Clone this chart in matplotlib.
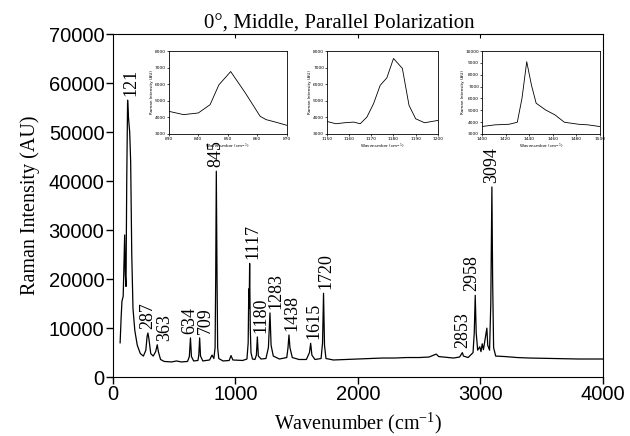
import matplotlib
matplotlib.use("Agg")
import matplotlib.pyplot as plt

# Raman spectrum, 0 deg, middle position, parallel polarization
wavenumber = [60, 68, 75, 85, 92, 97, 102, 108, 114, 121, 128, 138, 146, 155,
              165, 180, 200, 225, 250, 270, 280, 287, 295, 310, 330, 350, 363,
              372, 390, 420, 480, 520, 560, 610, 625, 634, 642, 660, 695, 702,
              709, 716, 735, 790, 810, 825, 835, 840, 845, 851, 856, 865, 900,
              950, 965, 980, 1060, 1095, 1105, 1110, 1113, 1117, 1122, 1128,
              1140, 1160, 1172, 1180, 1188, 1210, 1250, 1270, 1283, 1292, 1310,
              1360, 1420, 1430, 1438, 1446, 1465, 1520, 1580, 1605, 1615, 1625,
              1650, 1700, 1712, 1720, 1728, 1740, 1800, 1900, 2000, 2100, 2200,
              2300, 2400, 2500, 2580, 2620, 2640, 2660, 2700, 2780, 2830, 2845,
              2853, 2862, 2900, 2940, 2950, 2958, 2966, 2978, 2995, 3005, 3015,
              3025, 3040, 3053, 3060, 3075, 3085, 3094, 3100, 3108, 3125, 3200,
              3300, 3400, 3600, 3800, 4000]
intensity = [7000, 12000, 15500, 16500, 24000, 29000, 21000, 18500, 40000,
             56500, 53000, 50000, 44000, 25000, 14000, 9500, 6500, 4800, 4300,
             5500, 8300, 9000, 7800, 4800, 4300, 5200, 6600, 5200, 3600, 3200,
             3100, 3300, 3100, 3200, 4200, 8000, 4200, 3300, 3400, 4500, 8000,
             4300, 3300, 3500, 4500, 3800, 6000, 20000, 42000, 20000, 6000,
             3800, 3300, 3400, 4400, 3500, 3400, 3700, 7000, 18000, 14000,
             23200, 10000, 5000, 3700, 3600, 4500, 8200, 4300, 3700, 3800,
             6000, 13100, 6500, 4300, 3700, 4000, 6000, 8600, 6000, 4000, 3600,
             3600, 5000, 6900, 4500, 3600, 3800, 7000, 17100, 6500, 3800, 3500,
             3600, 3700, 3800, 3900, 3900, 4000, 4000, 4100, 4500, 4700, 4200,
             4100, 3900, 4100, 4700, 5000, 4300, 4000, 5000, 9000, 16700, 9000,
             5500, 6200, 5200, 6800, 5600, 8000, 10000, 6500, 5500, 15000,
             38800, 20000, 6000, 4300, 4200, 4000, 3900, 3800, 3700, 3700]

peaks = [121, 287, 363, 634, 709, 845, 1117, 1180, 1283, 1438, 1615, 1720,
         2853, 2958, 3094]

# detail windows (inset panels)
inset1_x = [830, 835, 840, 844, 847, 851, 856, 861, 863, 866, 870]
inset1_y = [4360, 4160, 4260, 4760, 5960, 6760, 5460, 4060, 3860, 3720, 3520]
inset2_x = [1150, 1154, 1158, 1162, 1165, 1168, 1171, 1174, 1177, 1180, 1184,
            1187, 1190, 1194, 1200]
inset2_y = [3750, 3610, 3670, 3710, 3610, 4010, 4820, 5930, 6380, 7550, 6950,
            4720, 3910, 3670, 3810]
inset3_x = [1400, 1411, 1423, 1430, 1434, 1438, 1442, 1446, 1454, 1462, 1470,
            1482, 1490, 1500]
inset3_y = [3620, 3760, 3810, 3980, 6010, 9100, 7130, 5590, 5020, 4600, 3980,
            3810, 3760, 3620]

serif = "Liberation Serif"
sans = "Liberation Sans"

fig = plt.figure(figsize=(6.3, 4.36), dpi=100)
ax = fig.add_axes([0.179, 0.135, 0.778, 0.787])
ax.plot(wavenumber, intensity, color="black", lw=0.9)
ax.set_xlim(0, 4000)
ax.set_ylim(0, 70000)
ax.set_xticks([0, 1000, 2000, 3000, 4000])
ax.set_yticks(range(0, 70001, 10000))
for lab in ax.get_xticklabels() + ax.get_yticklabels():
    lab.set_family(sans)
    lab.set_fontsize(14.5)
ax.tick_params(direction="out", length=5, width=1, pad=1)
ax.spines["top"].set_linewidth(0.7)
ax.set_xlabel("Wavenumber (cm$^{\\mathregular{-1}}$)", family=serif, fontsize=14.5, labelpad=4)
ax.set_ylabel("Raman Intensity (AU)", family=serif, fontsize=14.5, labelpad=6)
ax.set_title("0°, Middle, Parallel Polarization", family=serif, fontsize=15,
             x=0.463, pad=3)
top = ax.secondary_xaxis("top")
top.set_xticks([1000, 2000, 3000])
top.tick_params(direction="in", length=3, labeltop=False)

# sideways nudge of crowded labels, in pixels
nudge = {121: 3, 363: 7, 634: -1, 709: 6, 1117: 3, 1180: 4, 1283: 6,
         1438: 3, 1615: 3, 1720: 2, 2958: -3}
lookup = dict(zip(wavenumber, intensity))
for p in peaks:
    ax.annotate(str(p), xy=(p, lookup[p]), xytext=(nudge.get(p, 0) * 0.72, 3),
                textcoords="offset points", rotation=90, ha="center", va="bottom",
                family=serif, fontsize=13)


def inset(rect, xs, ys, xlim, ylim, xticks, yticks):
    a = fig.add_axes(rect)
    a.plot(xs, ys, color="black", lw=0.6)
    a.set_xlim(*xlim)
    a.set_ylim(*ylim)
    a.set_xticks(xticks)
    a.set_yticks(yticks)
    a.tick_params(labelsize=3.2, length=1.5, width=0.5, pad=0.5)
    for s in a.spines.values():
        s.set_linewidth(0.6)
    a.set_xlabel("Wavenumber (cm$^{-1}$)", fontsize=3, labelpad=0.5)
    a.set_ylabel("Raman Intensity (AU)", fontsize=3, labelpad=0.5)
    return a


inset([0.268, 0.693, 0.187, 0.190], inset1_x, inset1_y, (830, 870), (3000, 8000),
      range(830, 871, 10), range(3000, 8001, 1000))
inset([0.519, 0.693, 0.176, 0.190], inset2_x, inset2_y, (1150, 1200), (3000, 8000),
      range(1150, 1201, 10), range(3000, 8001, 1000))
inset([0.765, 0.693, 0.187, 0.190], inset3_x, inset3_y, (1400, 1500), (3000, 10000),
      range(1400, 1501, 20), range(3000, 10001, 1000))

fig.savefig("out.png", dpi=100)
